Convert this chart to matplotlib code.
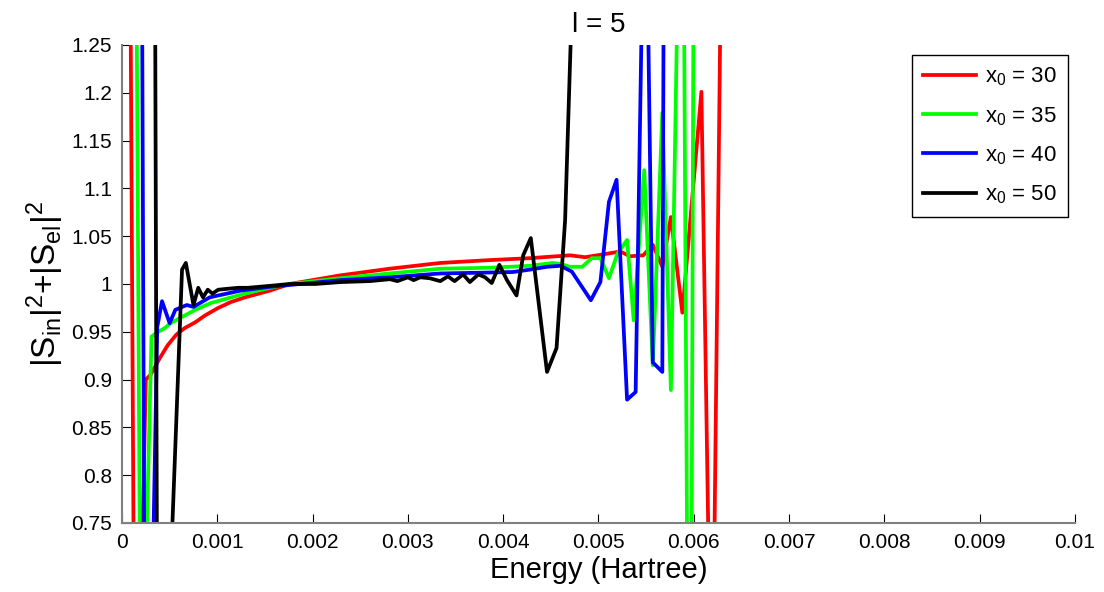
import numpy as np
import matplotlib
matplotlib.use('Agg')
import matplotlib.pyplot as plt

plt.rcParams['font.family'] = ['Liberation Sans', 'DejaVu Sans']
plt.rcParams['mathtext.fontset'] = 'custom'
plt.rcParams['mathtext.rm'] = 'Liberation Sans'
plt.rcParams['mathtext.it'] = 'Liberation Sans'

# energies (Hartree) and |S_in|^2+|S_el|^2
e_30 = [0.00005, 0.00014, 0.00025, 0.00030, 0.00040, 0.00048, 0.00057, 0.00066,
        0.00077, 0.00087, 0.00101, 0.00114, 0.00129, 0.00155, 0.00176, 0.00229,
        0.00281, 0.00334, 0.00386, 0.00428, 0.00470, 0.00486, 0.00505, 0.00523,
        0.00533, 0.00547, 0.00557, 0.00567, 0.00576, 0.00588, 0.00608, 0.00619,
        0.00631]
s_30 = [2.0, 0.4, 0.900, 0.905, 0.923, 0.936, 0.947, 0.954,
        0.960, 0.967, 0.975, 0.981, 0.986, 0.993, 1.000, 1.009,
        1.016, 1.022, 1.025, 1.027, 1.030, 1.028, 1.031, 1.034,
        1.029, 1.030, 1.041, 1.018, 1.070, 0.970, 1.201, 0.5,
        1.55]

e_35 = [0.00010, 0.00020, 0.00031, 0.00038, 0.00045, 0.00051, 0.00062, 0.00077,
        0.00093, 0.00111, 0.00129, 0.00155, 0.00176, 0.00229, 0.00281, 0.00334,
        0.00386, 0.00428, 0.00452, 0.00460, 0.00470, 0.00483, 0.00493, 0.00502,
        0.00511, 0.00520, 0.00530, 0.00537, 0.00548, 0.00557, 0.00567, 0.00576,
        0.00588, 0.00596, 0.00604]
s_35 = [2.2, 0.5, 0.945, 0.950, 0.954, 0.959, 0.965, 0.973,
        0.980, 0.985, 0.990, 0.996, 1.000, 1.006, 1.011, 1.016,
        1.017, 1.019, 1.022, 1.021, 1.018, 1.018, 1.027, 1.027,
        1.006, 1.032, 1.046, 0.962, 1.119, 0.915, 1.179, 0.889,
        1.6, 0.2, 2.6]

e_40 = [0.00016, 0.00025, 0.00037, 0.00042, 0.00050, 0.00056, 0.00068, 0.00075,
        0.00092, 0.00124, 0.00155, 0.00187, 0.00229, 0.00281, 0.00334, 0.00386,
        0.00410, 0.00428, 0.00446, 0.00460, 0.00472, 0.00492, 0.00502, 0.00511,
        0.00519, 0.00530, 0.00539, 0.00549, 0.00557, 0.00567, 0.00573]
s_40 = [2.6, 0.3, 0.955, 0.982, 0.959, 0.973, 0.978, 0.976,
        0.986, 0.993, 0.997, 1.000, 1.004, 1.007, 1.011, 1.012,
        1.0125, 1.015, 1.018, 1.019, 1.013, 0.983, 1.002, 1.086,
        1.109, 0.879, 0.887, 1.5, 0.918, 0.908, 2.6]

e_50 = [0.00026, 0.00038, 0.00048, 0.00063, 0.00067, 0.00075, 0.00080, 0.00085,
        0.00090, 0.00095, 0.00101, 0.00111, 0.00122, 0.00132, 0.00155, 0.00176,
        0.00203, 0.00229, 0.00260, 0.00281, 0.00289, 0.00300, 0.00306, 0.00313,
        0.00323, 0.00334, 0.00342, 0.00349, 0.00358, 0.00365, 0.00374, 0.00381,
        0.00388, 0.00396, 0.00404, 0.00414, 0.00421, 0.00429, 0.00446, 0.00456,
        0.00465, 0.00477]
s_50 = [4.0, 0.3, 0.62, 1.015, 1.022, 0.978, 0.996, 0.986,
        0.994, 0.990, 0.994, 0.995, 0.996, 0.996, 0.998, 1.000,
        1.000, 1.002, 1.003, 1.005, 1.003, 1.007, 1.004, 1.007,
        1.006, 1.003, 1.008, 1.003, 1.010, 1.002, 1.010, 1.007,
        1.001, 1.020, 1.004, 0.988, 1.030, 1.048, 0.908, 0.933,
        1.067, 1.45]

labels = ['x$_0$ = 30', 'x$_0$ = 35', 'x$_0$ = 40', 'x$_0$ = 50']
colors = ['#ff0000', '#00ff00', '#0000ff', '#000000']

xticks = [0, 0.001, 0.002, 0.003, 0.004, 0.005, 0.006, 0.007, 0.008, 0.009, 0.01]
xticklabels = ['0', '0.001', '0.002', '0.003', '0.004', '0.005', '0.006',
               '0.007', '0.008', '0.009', '0.01']
yticks = [0.75, 0.8, 0.85, 0.9, 0.95, 1.0, 1.05, 1.1, 1.15, 1.2, 1.25]
yticklabels = ['0.75', '0.8', '0.85', '0.9', '0.95', '1', '1.05', '1.1',
               '1.15', '1.2', '1.25']

fig = plt.figure(figsize=(11.04, 5.92), dpi=100)
ax = fig.add_axes([0.1105, 0.1166, 0.8632, 0.8074])

series = [(e_30, s_30), (e_35, s_35), (e_40, s_40), (e_50, s_50)]
for (e, s), c, lab in zip(series, colors, labels):
    ax.plot(e, s, color=c, lw=2.7, label=lab)

ax.set_xlim(0, 0.01)
ax.set_ylim(0.75, 1.25)
ax.set_xticks(xticks)
ax.set_xticklabels(xticklabels)
ax.set_yticks(yticks)
ax.set_yticklabels(yticklabels)
ax.tick_params(direction='in', length=6.5, width=0.8, labelsize=15, pad=7)

for side in ['top', 'right']:
    ax.spines[side].set_visible(False)
for side in ['left', 'bottom']:
    ax.spines[side].set_color('#808080')
    ax.spines[side].set_linewidth(1.5)

ax.set_xlabel('Energy (Hartree)', fontsize=21, labelpad=3)
ax.set_ylabel(r'|S$_{\rm in}$|$^2$+|S$_{\rm el}$|$^2$', fontsize=24, labelpad=4)
ax.set_title('l = 5', fontsize=20, pad=9)

leg = ax.legend(loc='upper right', bbox_to_anchor=(0.993, 0.98), fontsize=16,
                fancybox=False, framealpha=1, edgecolor='black',
                handlelength=2.4, handletextpad=0.4, labelspacing=0.75,
                borderpad=0.5, borderaxespad=0)
leg.get_frame().set_linewidth(1.0)

plt.savefig('out.png', dpi=100)
plt.close(fig)
